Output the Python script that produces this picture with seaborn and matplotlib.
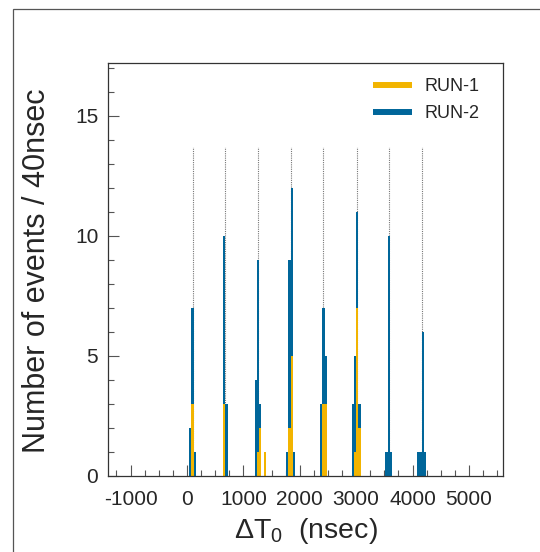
import numpy as np
import pandas as pd
import seaborn as sns
import matplotlib.pyplot as plt
from matplotlib.lines import Line2D
from matplotlib.patches import Rectangle
from matplotlib.ticker import MultipleLocator

# centres (nsec) of the filled 40 nsec bins and the number of events in each
run1_t = [100, 660, 1260, 1300, 1380, 1820, 1860, 2420, 2460, 2980, 3020, 3060]
run1_n = [3, 3, 1, 2, 1, 2, 5, 3, 3, 1, 7, 2]
run2_t = [60, 100, 140, 660, 700, 1220, 1260, 1300, 1780, 1820, 1860, 1900,
          2380, 2420, 2460, 2940, 2980, 3020, 3060, 3540, 3580, 3620,
          4100, 4140, 4180, 4220]
run2_n = [2, 4, 1, 7, 3, 4, 8, 1, 1, 7, 7, 1,
          3, 4, 2, 3, 4, 4, 1, 1, 10, 1,
          1, 1, 6, 1]
# fitted bunch centres (dotted lines)
bunch_t = [100, 678, 1258, 1838, 2420, 3008, 3585, 4165]
bunch_top = 13.7

c_run1 = "#F2B400"
c_run2 = "#00669A"

df = pd.DataFrame({
    "t": run1_t + run2_t,
    "n": run1_n + run2_n,
    "run": ["RUN-1"] * len(run1_t) + ["RUN-2"] * len(run2_t),
})

sns.set_style("ticks")
plt.rcParams["font.family"] = ["Liberation Sans", "DejaVu Sans"]
plt.rcParams["mathtext.fontset"] = "custom"
plt.rcParams["mathtext.rm"] = "Liberation Sans"
plt.rcParams["mathtext.it"] = "Liberation Sans"
plt.rcParams["axes.unicode_minus"] = False

fig = plt.figure(figsize=(5.4, 5.52), dpi=100)
ax = fig.add_axes([0.2, 0.1377, 0.731, 0.748])

sns.histplot(df, x="t", weights="n", hue="run", hue_order=["RUN-2", "RUN-1"],
             multiple="stack", binwidth=40, binrange=(-1400, 5600),
             palette={"RUN-1": c_run1, "RUN-2": c_run2},
             element="bars", fill=True, alpha=1, linewidth=0,
             legend=False, ax=ax)
# snap bars to pixels so neighbouring bins touch like the ROOT fill
for p in ax.patches:
    p.set_antialiased(False)
    p.set_zorder(2)

ax.vlines(bunch_t, 0, bunch_top, colors="#777777", linestyles=(0, (1, 1)),
          linewidth=0.8, zorder=1)

ax.set_xlim(-1400, 5600)
ax.set_ylim(0, 17.2)
ax.xaxis.set_major_locator(MultipleLocator(1000))
ax.xaxis.set_minor_locator(MultipleLocator(250))
ax.yaxis.set_major_locator(MultipleLocator(5))
ax.yaxis.set_minor_locator(MultipleLocator(1))
ax.tick_params(which="both", direction="in", top=False, right=False, color="#555555")
ax.tick_params(which="major", length=8, width=0.8, labelsize=15)
ax.tick_params(axis="x", which="major", pad=10)
ax.tick_params(axis="y", which="major", pad=7)
ax.tick_params(which="minor", length=4, width=0.8)
for s in ax.spines.values():
    s.set_color("#333333")
    s.set_linewidth(0.9)
ax.set_xlabel("")
ax.set_ylabel("")

fig.text(305.5 / 540, 14.5 / 552, r"$\Delta$T$_{0}$  (nsec)", ha="center", va="baseline", fontsize=20.5)
fig.text(37 / 540, (552 - 271) / 552, "Number of events / 40nsec", rotation=90,
         ha="center", va="center", fontsize=22)

handles = [Line2D([], [], color=c_run1, linewidth=4.3, solid_capstyle="butt"),
           Line2D([], [], color=c_run2, linewidth=4.3, solid_capstyle="butt")]
ax.legend(handles, ["RUN-1", "RUN-2"], loc="upper left",
          bbox_to_anchor=((372.7 - 108) / 394.7, (476 - 78) / 413),
          frameon=False, fontsize=13, handlelength=2.17, handletextpad=0.68,
          labelspacing=0.55, borderpad=0, borderaxespad=0)

fig.add_artist(Rectangle((12.7 / 540, -0.1), 1.2, 1.1 - 9 / 552,
                         transform=fig.transFigure, fill=False,
                         edgecolor="#555555", linewidth=0.9))

fig.savefig("out.png", dpi=100)
